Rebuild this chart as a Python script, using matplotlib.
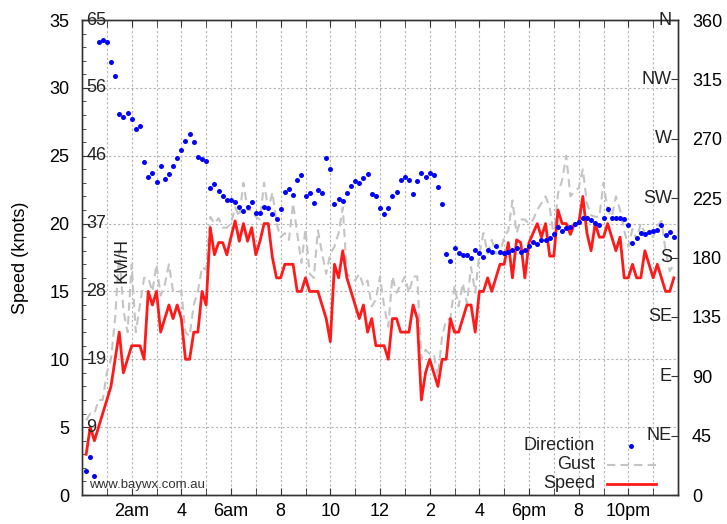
import numpy as np
import matplotlib
matplotlib.use("Agg")
import matplotlib.pyplot as plt
from matplotlib.lines import Line2D

plt.rcParams['font.family'] = ['Liberation Sans', 'DejaVu Sans']

# samples every 10 minutes, index 1..143 (hours = index/6)
sample_index = list(range(1, 144))

speed = [3, 5, 4, 5, 6, 7, 8, 10, 12, 9, 10, 11, 11, 11, 10, 15, 14, 15, 12, 13,
         14, 13, 14, 13, 10, 10, 12, 12, 15, 14, 19.7, 17.7, 18.6, 18.6, 17.7, 19, 20.2, 18.7, 20, 18.7,
         19.7, 17.7, 18.7, 20, 20, 17.5, 16, 16, 17, 17, 17, 15, 15, 16, 15, 15, 15, 14, 13, 11.3,
         17, 16, 18, 16, 15, 14, 13, 14, 12, 13, 11, 11, 11, 10, 13, 13, 12, 12, 12, 14,
         13, 7, 9, 10, 9, 8, 10, 10, 13, 12, 12, 13, 14, 14, 12, 15, 15, 16, 15, 16,
         17, 17, 18.6, 16, 18.8, 18.6, 16, 18.6, 19.3, 20, 19, 20, 17.6, 17.6, 21, 20, 20, 19.2, 20, 20,
         22, 19.3, 18, 20, 19, 19, 20, 19, 18, 19, 16, 16, 17, 16, 16, 18, 17, 16, 17, 16,
         15, 15, 16]

gust = [5.5, 6, 6, 7, 7, 9, 10, 13, 18, 13.6, 12, 17, 12, 14, 16, 16, 15, 17, 14.7, 15.5,
        17, 15, 15, 15, 12, 11.7, 14, 15, 16.8, 16.6, 20.5, 20, 20.4, 19.7, 19.7, 20, 21.2, 20.5, 23, 21,
        21, 20.5, 20.3, 23, 21, 22.3, 20, 19, 19.3, 18.8, 21.5, 19.3, 17.1, 19.6, 16.3, 16, 19.5, 17.8, 16.3, 17.8,
        18.3, 19.3, 21.2, 16.3, 16, 15.8, 16.3, 15.4, 15.8, 13.9, 14.4, 16.1, 13.9, 12.4, 16.1, 14.9, 15.5, 16.1, 14.9, 16.1,
        16.1, 10, 10.7, 10.4, 10.4, 8.7, 11.7, 12.9, 13, 15.4, 13.9, 15.6, 14.1, 16.8, 14.9, 17.8, 19.3, 17.8, 18.8, 17.8,
        17.8, 19, 19.5, 21.7, 19.3, 20.3, 20.3, 20, 20.3, 21, 21.5, 22, 21.2, 19, 22.2, 23.2, 25, 22, 22.4, 22.6,
        24, 21.5, 20.6, 20.5, 20.5, 23, 21, 20.5, 22, 21, 19.5, 18.3, 19.6, 18.8, 20, 19.3, 19.3, 19, 19.8, 20.2,
        18, 16.5, 17]

direction = [18.4, 29, 14.4, 343.6, 344.8, 343.6, 328, 317.8, 288.8, 286.3, 289.7, 285, 277.6, 279.7, 252.6, 240.8, 243.8, 237.5, 249.6, 239.5,
             243.1, 249.6, 255.6, 261.5, 268.5, 273.6, 267.8, 255.9, 254.7, 253.4, 232.4, 235.9, 230.6, 226.6, 223.6, 223.6, 222.3, 218, 215.5, 218.5,
             221.8, 213.5, 213.5, 218.5, 217.8, 212.7, 209, 216.8, 229.9, 231.7, 227.4, 238.7, 242.5, 226.6, 228.7, 221.5, 231.2, 228.7, 255.6, 246.8,
             220.5, 224.1, 222.8, 228.7, 234.4, 238, 236.7, 240.5, 243, 227.9, 226.6, 217.7, 212.7, 217.7, 226.6, 229.9, 238.7, 240.8, 238.7, 227.9,
             238, 243.8, 240.8, 244.3, 242.5, 233.2, 220.5, 182.7, 177.6, 187.4, 183.6, 181.9, 181.9, 179.4, 185.7, 183.2, 180.6, 185.7, 184.4, 188.7,
             184.4, 183.6, 184.4, 185.7, 187, 184.4, 185.7, 188.7, 192, 190.2, 193.3, 193.3, 194.6, 197.6, 203.4, 200.1, 202.1, 203.4, 205.2, 207.2,
             209.7, 209.7, 208.4, 206.4, 204.6, 209.7, 216.5, 209.7, 209.7, 209.7, 209, 204.6, 190.8, 194.6, 198.3, 197.6, 199.6, 200.3, 200.8, 204.6,
             197, 199.6, 195.3]

hour_ticks = [2, 4, 6, 8, 10, 12, 14, 16, 18, 20, 22]
hour_labels = ["2am", "4", "6am", "8", "10", "12", "2", "4", "6pm", "8", "10pm"]
speed_ticks = [0, 5, 10, 15, 20, 25, 30, 35]
kmh_labels = ["9", "19", "28", "37", "46", "56", "65"]
dir_ticks = [0, 45, 90, 135, 180, 225, 270, 315, 360]
compass = ["NE", "E", "SE", "S", "SW", "W", "NW", "N"]

hours = np.array(sample_index) / 6.0

fig = plt.figure(figsize=(7.27, 5.24), dpi=100)
ax = fig.add_axes([82/727, 1-495/524, 596/727, 475/524])
ax2 = ax.twinx()

FS = 13
GRID = dict(color='#b4b4b4', lw=0.8, ls=(0, (2, 2)))

ax.set_xlim(0, 24)
ax.set_ylim(0, 35)
ax2.set_ylim(0, 360)

for h in range(1, 24):
    ax.axvline(h, zorder=0, **GRID)
for s in speed_ticks[1:-1]:
    ax.axhline(s, zorder=0, **GRID)

ax.plot(hours, gust, color='#c4c4c4', lw=1.5, ls=(0, (4, 2.5)), zorder=2)
ax.plot(hours, speed, color='#ff1a1a', lw=2.0, zorder=3)
ax2.plot(hours, direction, ls='none', marker='o', ms=3.6, color='#0000ff', mec='none', zorder=4)

# axes ticks
ax.set_xticks(hour_ticks)
ax.set_xticklabels(hour_labels, fontsize=FS)
ax.set_xticks(range(0, 25), minor=True)
ax.tick_params(axis='x', which='both', direction='in', top=True, bottom=True, length=5, pad=6, color='#333333')

ax.set_yticks(speed_ticks)
ax.set_yticklabels([str(v) for v in speed_ticks], fontsize=FS)
ax.set_yticks(range(0, 36), minor=True)
ax.tick_params(axis='y', which='major', direction='in', length=6, pad=9, color='#333333')
ax.tick_params(axis='y', which='minor', direction='in', length=3, color='#333333')
ax.set_ylabel("Speed (knots)", fontsize=FS, labelpad=15)

ax2.set_yticks(dir_ticks)
ax2.set_yticklabels([str(v) for v in dir_ticks], fontsize=FS)
ax2.tick_params(axis='y', direction='in', length=5, pad=10, color='#333333')

for sp in list(ax.spines.values()) + list(ax2.spines.values()):
    sp.set_color('#333333')
    sp.set_linewidth(1.0)

# inner km/h labels
for v, lab in zip(speed_ticks[1:], kmh_labels):
    ax.text(0.17, v, lab, fontsize=FS, ha='left', va='center', color='#222222', zorder=5)
ax.text(1.6, 17.3, "KM/H", rotation=90, fontsize=FS, ha='center', va='center', color='#222222')

# inner compass labels
for d, lab in zip(dir_ticks[1:], compass):
    ax2.text(23.75, d, lab, fontsize=FS, ha='right', va='center', color='#222222', zorder=5)

ax.text(0.012, 0.022, "www.baywx.com.au", transform=ax.transAxes, fontsize=9.5,
        ha='left', va='center', color='#333333')

# legend (manual, text right aligned)
tx = 0.861
rows = [0.1042, 0.0632, 0.0232]
for y, lab in zip(rows, ["Direction", "Gust", "Speed"]):
    ax.text(tx, y, lab, transform=ax.transAxes, fontsize=FS, ha='right', va='center', color='#222222')
ax.add_line(Line2D([0.9206], [rows[0]], transform=ax.transAxes, marker='o', ms=3.6,
                   color='#0000ff', mec='none', ls='none'))
ax.add_line(Line2D([0.8804, 0.9631], [rows[1]]*2, transform=ax.transAxes,
                   color='#c4c4c4', lw=1.5, ls=(0, (4, 2.5))))
ax.add_line(Line2D([0.8804, 0.9631], [rows[2]]*2, transform=ax.transAxes,
                   color='#ff1a1a', lw=2.0))

fig.savefig("out.png", dpi=100)
